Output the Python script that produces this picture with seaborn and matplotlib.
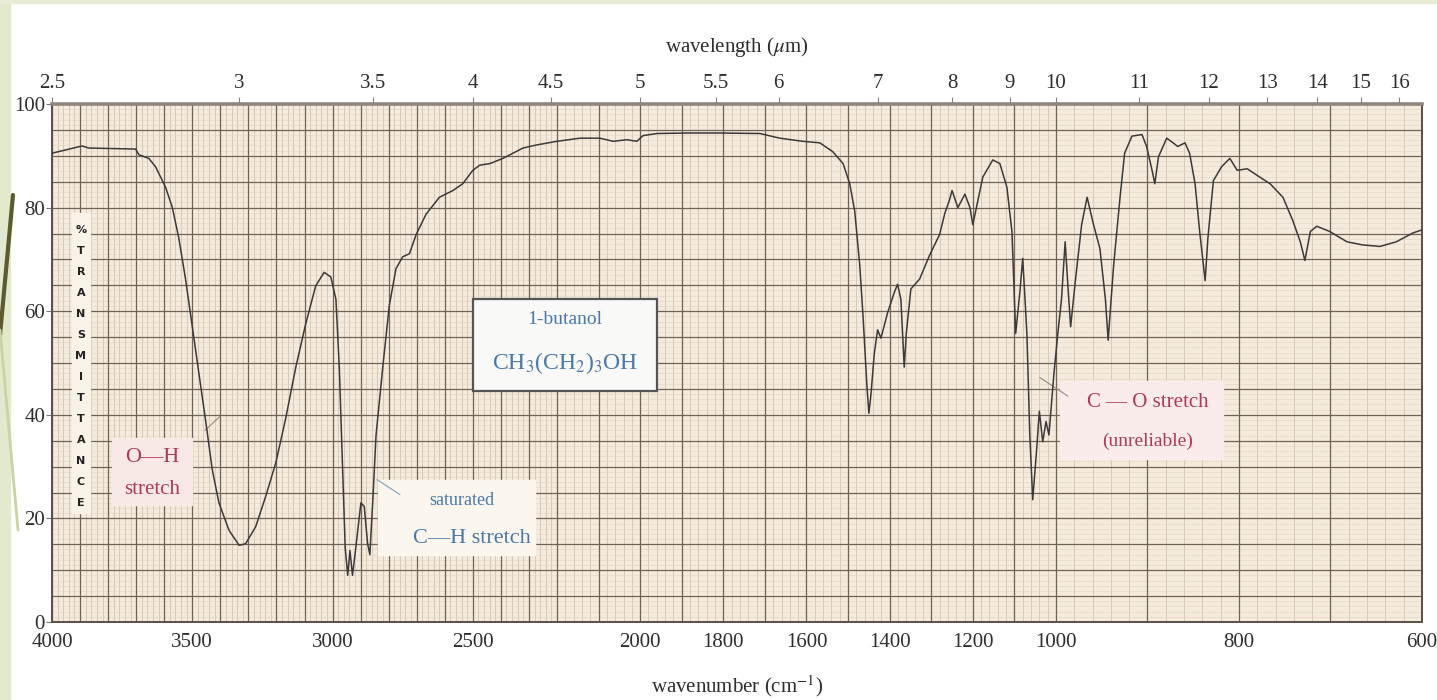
import numpy as np
import pandas as pd
import seaborn as sns
import matplotlib.pyplot as plt
from matplotlib.patches import Rectangle
from matplotlib.lines import Line2D

# IR spectrum of 1-butanol
wavenumber = [4000, 3893, 3869, 3702, 3690, 3655, 3631, 3595, 3571, 3548, 3524, 3500,
              3476, 3452, 3429, 3405, 3369, 3333, 3310, 3274, 3238, 3202, 3167, 3131,
              3095, 3060, 3030, 3006, 2988, 2976, 2964, 2955, 2946, 2938, 2929, 2917,
              2899, 2887, 2875, 2867, 2857, 2845, 2821, 2798, 2774, 2750, 2726, 2702,
              2667, 2619, 2571, 2536, 2500, 2475, 2439, 2393, 2357, 2321, 2272, 2200,
              2145, 2097, 2065, 2032, 2008, 1993, 1960, 1888, 1808, 1712, 1664, 1609,
              1568, 1537, 1512, 1496, 1484, 1472, 1464, 1455, 1450, 1445, 1437, 1429,
              1421, 1405, 1389, 1381, 1373, 1365, 1360, 1349, 1328, 1304, 1280, 1267,
              1256, 1250, 1236, 1219, 1207, 1200, 1188, 1176, 1152, 1135, 1118, 1106,
              1097, 1087, 1080, 1070, 1063, 1056, 1047, 1040, 1032, 1024, 1017, 1005,
              998, 994, 990, 987, 984, 979, 972, 966, 959, 952, 946, 943, 937, 930,
              925, 917, 906, 901, 895, 892, 888, 879, 872, 867, 859, 854, 848, 843,
              837, 834, 828, 819, 810, 802, 791, 780, 766, 752, 741, 733, 728, 722,
              715, 701, 682, 665, 646, 628, 610, 600]
transmittance = [90.5, 91.9, 91.5, 91.3, 90.2, 89.5, 87.9, 83.9, 80.0, 74.1, 66.2, 57.0,
                 47.9, 38.7, 29.5, 23.0, 17.7, 14.8, 15.1, 18.4, 24.3, 30.8, 39.3, 49.2,
                 57.7, 64.9, 67.5, 66.6, 62.3, 49.2, 29.5, 14.4, 9.0, 13.8, 9.0, 14.4,
                 23.0, 22.3, 15.1, 13.0, 23.0, 36.1, 49.2, 61.0, 68.2, 70.5, 71.1, 74.8,
                 78.7, 82.0, 83.3, 84.6, 87.2, 88.2, 88.5, 89.5, 90.5, 91.5, 92.1, 92.8,
                 93.4, 93.4, 92.8, 93.1, 92.8, 93.9, 94.3, 94.4, 94.4, 94.3, 93.4, 92.8,
                 92.5, 90.8, 88.5, 84.6, 79.3, 68.9, 59.0, 45.9, 40.3, 43.9, 51.8, 56.4,
                 54.8, 59.7, 63.6, 65.2, 62.3, 49.2, 55.7, 64.3, 66.2, 70.8, 74.8, 79.0,
                 81.5, 83.3, 80.0, 82.6, 80.0, 76.7, 81.3, 85.9, 89.2, 88.5, 83.9, 75.4,
                 55.7, 63.6, 70.2, 55.7, 36.1, 23.6, 32.8, 40.7, 34.8, 38.7, 36.1, 47.9,
                 55.7, 62.3, 73.4, 64.9, 57.0, 65.6, 76.7, 82.0, 76.7, 72.1, 62.3, 54.4, 68.9, 82.0,
                 90.5, 93.8, 94.1, 91.8, 87.2, 84.6, 89.8, 93.4, 92.5, 91.8, 92.5, 90.5, 84.6, 75.4,
                 65.9, 74.1, 85.2, 87.9, 89.5, 87.2, 87.5, 86.2, 84.6, 82.0, 77.4, 73.4, 69.8, 75.4,
                 76.4, 75.4, 73.4, 72.8, 72.5, 73.4, 75.1, 75.7]

wn_ticks = [4000, 3500, 3000, 2500, 2000, 1800, 1600, 1400, 1200, 1000, 800, 600]
t_ticks = [0, 20, 40, 60, 80, 100]
um_ticks = [2.5, 3, 3.5, 4, 4.5, 5, 5.5, 6, 7, 8, 9, 10, 11, 12, 13, 14, 15, 16]

# chart paper changes its wavenumber scale at 2200 and 1000 cm-1
knot_wn = [600, 1000, 2200, 4000]
knot_pos = [-1370, -1004, -505, 0]


def fwd(w):
    return np.interp(w, knot_wn, knot_pos)


def inv(p):
    return np.interp(p, knot_pos, knot_wn)


sns.set_theme(style="white")
plt.rcParams['font.family'] = ['Liberation Serif', 'DejaVu Serif']
plt.rcParams['mathtext.fontset'] = 'stix'

paper = '#f5ebdc'
ink = '#2e2e2e'
red = '#b03a58'
blue = '#4a78a8'

fig = plt.figure(figsize=(14.37, 7.0), dpi=100)
fig.patch.set_facecolor('white')
ax = fig.add_axes([52 / 1437, 1 - 622 / 700, 1370 / 1437, 518 / 700])
ax.set_facecolor(paper)

df = pd.DataFrame({'wavenumber': wavenumber, 'T': transmittance})
sns.lineplot(data=df, x='wavenumber', y='T', ax=ax, color='#3a3a3a', lw=1.1,
             estimator=None, sort=False, zorder=5)

ax.set_xscale('function', functions=(fwd, inv))
ax.set_xlim(4000, 600)
ax.set_ylim(0, 100)

# grid of the chart paper
for w in range(600, 4001, 20):
    if w % 100 == 0:
        ax.axvline(w, color='#6f6357', lw=0.9, zorder=1)
    else:
        ax.axvline(w, color='#cdbda9', lw=0.5, zorder=0.5)
for t in range(0, 101):
    if t % 5 == 0:
        ax.axhline(t, color='#6f6357', lw=0.9, zorder=1)
    else:
        ax.axhline(t, color='#e3d6c4', lw=0.4, zorder=0.5)

ax.set_xticks(wn_ticks, [str(w) for w in wn_ticks])
ax.set_yticks(t_ticks, [str(t) for t in t_ticks])
ax.tick_params(axis='x', bottom=True, length=0, pad=8, labelsize=15, labelcolor=ink)
ax.tick_params(axis='y', left=True, length=4, width=0.8, color='#777', pad=1,
               labelsize=15, labelcolor=ink)
ax.set_xlabel('wavenumber (cm$^{-1}$)', fontsize=15, color=ink, labelpad=15)
ax.set_ylabel('')
for side in ['left', 'bottom', 'right']:
    ax.spines[side].set_color('#5a5048')
    ax.spines[side].set_linewidth(1.4)
ax.spines['top'].set_visible(False)

# wavelength scale on top
ax2 = ax.twiny()
ax2.set_xscale('function', functions=(fwd, inv))
ax2.set_xlim(4000, 600)
ax2.set_xticks([1e4 / u for u in um_ticks], [f'{u:g}' for u in um_ticks])
ax2.tick_params(axis='x', top=True, length=5, width=0.8, color='#8a8076', pad=3,
                labelsize=15, labelcolor=ink)
ax2.set_xlabel('wavelength ($\\mu$m)', fontsize=15, color=ink, labelpad=16)
for side in ['left', 'bottom', 'right']:
    ax2.spines[side].set_visible(False)
ax2.spines['top'].set_color('#8f877d')
ax2.spines['top'].set_linewidth(2.6)

# %TRANSMITTANCE written down the paper
ax.add_patch(Rectangle((3865, 21), 64, 58, color='#f8f2e8', zorder=2))
for i, ch in enumerate('%TRANSMITTANCE'):
    ax.text(3897, 75.7 - i * 4.05, ch, ha='center', va='center', fontsize=8,
            fontweight='bold', family='DejaVu Sans', color='#222', zorder=3)

# O-H label
ax.add_patch(Rectangle((3501, 22.5), 285, 13, color='#f8e9e6', zorder=2))
ax.text(3644, 31.8, 'O—H', ha='center', va='center', fontsize=16, color=red, zorder=3)
ax.text(3644, 25.6, 'stretch', ha='center', va='center', fontsize=15, color=red, zorder=3)
ax.plot([3455, 3401], [37, 39.7], color='#9b8a80', lw=0.8, zorder=4)

# saturated C-H label
ax.add_patch(Rectangle((2279, 12.9), 559, 14.5, color='#fbf7ef', zorder=2))
ax.text(2539, 23.5, 'saturated', ha='center', va='center', fontsize=13, color=blue, zorder=3)
ax.text(2503, 16.2, 'C—H stretch', ha='center', va='center', fontsize=16, color=blue, zorder=3)
ax.plot([2842, 2760], [27.5, 24.6], color='#8fa8c0', lw=0.9, zorder=4)

# compound box
ax.add_patch(Rectangle((1960, 44.6), 540, 17.7, facecolor='#f9f9f7', edgecolor='#555',
                       lw=1.6, zorder=2))
ax.text(2181, 58.4, '1-butanol', ha='center', va='center', fontsize=14, color=blue, zorder=3)
ax.text(2181, 50.0, 'CH$_3$(CH$_2$)$_3$OH', ha='center', va='center', fontsize=17,
        color=blue, zorder=3)

# C-O label
ax.add_patch(Rectangle((817, 31.5), 179, 15.1, color='#f9ecea', zorder=2))
ax.text(900, 42.3, 'C — O stretch', ha='center', va='center', fontsize=15, color=red, zorder=3)
ax.text(900, 34.8, '(unreliable)', ha='center', va='center', fontsize=14, color=red, zorder=3)
ax.plot([1039, 987], [47.2, 43.6], color='#9b8a80', lw=0.8, zorder=4)

# slide decoration at the left edge
fig.add_artist(Rectangle((0, 0), 10 / 1437, 1, transform=fig.transFigure,
                         color='#e3e9cc', zorder=-5))
fig.add_artist(Rectangle((0, 1 - 3 / 700), 1, 3 / 700, transform=fig.transFigure,
                         color='#e8ecd6', zorder=-5))
fig.add_artist(Line2D([13 / 1437, 0], [1 - 195 / 700, 1 - 335 / 700],
                      transform=fig.transFigure, color='#5c5a30', lw=3))
fig.add_artist(Line2D([0, 18 / 1437], [1 - 330 / 700, 1 - 530 / 700],
                      transform=fig.transFigure, color='#c9d3a6', lw=2))

fig.savefig('out.png', dpi=100)
